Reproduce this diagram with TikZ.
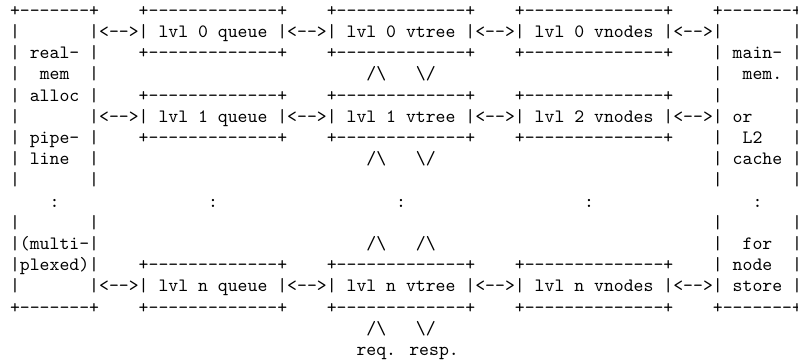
\documentclass[tikz,border=0pt]{standalone}
\newcommand\dsh[1]{\foreach\k in {1,...,#1}{-\kern0pt}}
\newcommand\abox[1]{+\dsh{#1}+}
\newcommand\lrar{<-\kern0pt->}
\newcommand\bsl{\textbackslash}
\tikzset{asc/.style={anchor=base west, inner sep=0pt, outer sep=0pt, font=\ttfamily}}
\newcommand\seg[4]{\node[asc] (#1) at ({5.33pt+5.25pt*#2},{-8.70pt-11.24pt*(#3-1)}) {#4};}
\begin{document}
\begin{tikzpicture}
\fill[white] (0,0) rectangle (423.2pt,-192.5pt);
\useasboundingbox (0,0) rectangle (423.2pt,-192.5pt);
% row 1
\seg{a1}{0}{1}{\abox{7}}
\seg{q1}{13}{1}{\abox{13}}
\seg{t1}{32}{1}{\abox{13}}
\seg{v1}{51}{1}{\abox{14}}
\seg{m1}{71}{1}{\abox{7}}
% row 2
\seg{a2}{0}{2}{|}
\seg{l2}{8}{2}{|\lrar| lvl 0 queue |\lrar| lvl 0 vtree |\lrar| lvl 0 vnodes |\lrar|}
\seg{m2}{79}{2}{|}
% row 3
\seg{a3}{0}{3}{| real- |}
\seg{q3}{13}{3}{\abox{13}}
\seg{t3}{32}{3}{\abox{13}}
\seg{v3}{51}{3}{\abox{14}}
\seg{m3}{71}{3}{| main- |}
% row 4
\seg{a4}{0}{4}{|}
\seg{b4}{3}{4}{mem}
\seg{c4}{8}{4}{|}
\seg{u4}{36}{4}{/\bsl}
\seg{d4}{41}{4}{\bsl/}
\seg{m4}{71}{4}{|}
\seg{n4}{74}{4}{mem.}
\seg{o4}{79}{4}{|}
% row 5
\seg{a5}{0}{5}{| alloc |}
\seg{q5}{13}{5}{\abox{13}}
\seg{t5}{32}{5}{\abox{13}}
\seg{v5}{51}{5}{\abox{14}}
\seg{m5}{71}{5}{|}
\seg{o5}{79}{5}{|}
% row 6
\seg{a6}{0}{6}{|}
\seg{l6}{8}{6}{|\lrar| lvl 1 queue |\lrar| lvl 1 vtree |\lrar| lvl 2 vnodes |\lrar|}
\seg{n6}{73}{6}{or}
\seg{o6}{79}{6}{|}
% row 7
\seg{a7}{0}{7}{| pipe- |}
\seg{q7}{13}{7}{\abox{13}}
\seg{t7}{32}{7}{\abox{13}}
\seg{v7}{51}{7}{\abox{14}}
\seg{m7}{71}{7}{|}
\seg{n7}{74}{7}{L2}
\seg{o7}{79}{7}{|}
% row 8
\seg{a8}{0}{8}{| line}
\seg{c8}{8}{8}{|}
\seg{u8}{36}{8}{/\bsl}
\seg{d8}{41}{8}{\bsl/}
\seg{m8}{71}{8}{| cache |}
% row 9
\seg{a9}{0}{9}{|}
\seg{c9}{8}{9}{|}
\seg{m9}{71}{9}{|}
\seg{o9}{79}{9}{|}
% row 10
\seg{a10}{4}{10}{:}
\seg{q10}{20}{10}{:}
\seg{t10}{39}{10}{:}
\seg{v10}{58}{10}{:}
\seg{m10}{75}{10}{:}
% row 11
\seg{a11}{0}{11}{|}
\seg{c11}{8}{11}{|}
\seg{m11}{71}{11}{|}
\seg{o11}{79}{11}{|}
% row 12
\seg{a12}{0}{12}{|(multi-|}
\seg{u12}{36}{12}{/\bsl}
\seg{d12}{41}{12}{/\bsl}
\seg{m12}{71}{12}{|}
\seg{n12}{74}{12}{for}
\seg{o12}{79}{12}{|}
% row 13
\seg{a13}{0}{13}{|plexed)|}
\seg{q13}{13}{13}{\abox{13}}
\seg{t13}{32}{13}{\abox{13}}
\seg{v13}{51}{13}{\abox{14}}
\seg{m13}{71}{13}{| node}
\seg{o13}{79}{13}{|}
% row 14
\seg{a14}{0}{14}{|}
\seg{l14}{8}{14}{|\lrar| lvl n queue |\lrar| lvl n vtree |\lrar| lvl n vnodes |\lrar| store |}
% row 15
\seg{a15}{0}{15}{\abox{7}}
\seg{q15}{13}{15}{\abox{13}}
\seg{t15}{32}{15}{\abox{13}}
\seg{v15}{51}{15}{\abox{14}}
\seg{m15}{71}{15}{\abox{7}}
% row 16
\seg{u16}{36}{16}{/\bsl}
\seg{d16}{41}{16}{\bsl/}
% row 17
\seg{r17}{35}{17}{req. resp.}
\end{tikzpicture}
\end{document}
